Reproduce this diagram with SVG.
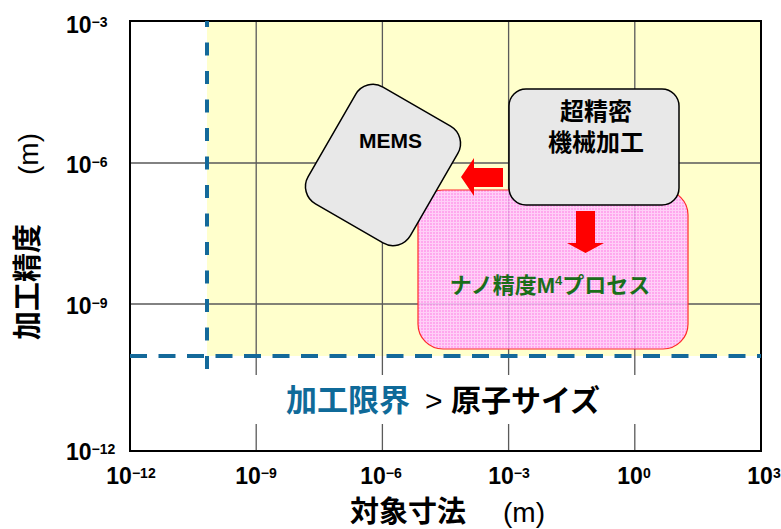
<svg xmlns="http://www.w3.org/2000/svg" width="781" height="529" viewBox="0 0 781 529">
<style>
.tick{font-family:"Liberation Sans","Noto Sans",sans-serif;font-weight:bold;font-size:23px;fill:#000}
.sup{font-size:14px}
.cjk{font-family:"Noto Sans CJK JP",sans-serif}
.lat{font-family:"Liberation Sans","Noto Sans CJK JP",sans-serif}
.grid{stroke:#5a5a5a;stroke-width:1.3;fill:none}
.node{fill:#e8e8e8;stroke:#000;stroke-width:1.5}
.dash{stroke:#14699a;stroke-width:4;fill:none}
.arrow{fill:#ff0000;stroke:none}
</style>
<defs>
<pattern id="mesh" width="3" height="3" patternUnits="userSpaceOnUse">
<rect width="3" height="3" fill="#ff99f4"/>
<path d="M0 0.5H3M0.5 0V3" stroke="#ffc8ff" stroke-width="1"/>
</pattern>
</defs>
<rect width="781" height="529" fill="#fff"/>
<g id="chart">
<rect x="207" y="21" width="554" height="335" fill="#ffffcc"/>
<path class="grid" d="M256.2 21V451M382.4 21V451M508.6 21V451M634.8 21V451M130 163H761M130 304H761"/>
<rect x="130" y="21" width="631" height="430" fill="none" stroke="#000" stroke-width="2"/>
<path class="dash" d="M130 356H761" stroke-dasharray="17 11.5"/>
<path class="dash" d="M207 21V372" stroke-dasharray="13 15.5" stroke-dashoffset="7"/>
<rect x="230" y="375" width="450" height="49" fill="#fff"/>
<text x="286" y="411" font-size="31"><tspan class="cjk" font-weight="bold" fill="#0f6a99">加工限界</tspan><tspan class="lat" x="425" font-size="30" fill="#000">&gt;</tspan><tspan class="cjk" x="451" font-size="30" fill="#000" font-weight="bold">原子サイズ</tspan></text>
</g>
<g id="y-ticks" class="tick">
<text x="66" y="33">10<tspan class="sup" dy="-6">−3</tspan></text>
<text x="66" y="173">10<tspan class="sup" dy="-6">−6</tspan></text>
<text x="66" y="314">10<tspan class="sup" dy="-6">−9</tspan></text>
<text x="66" y="460">10<tspan class="sup" dy="-6">−12</tspan></text>
</g>
<g id="x-ticks" class="tick" text-anchor="middle">
<text x="131" y="484">10<tspan class="sup" dy="-6">−12</tspan></text>
<text x="256" y="484">10<tspan class="sup" dy="-6">−9</tspan></text>
<text x="381" y="484">10<tspan class="sup" dy="-6">−6</tspan></text>
<text x="509" y="484">10<tspan class="sup" dy="-6">−3</tspan></text>
<text x="634" y="484">10<tspan class="sup" dy="-6">0</tspan></text>
<text x="764" y="484">10<tspan class="sup" dy="-6">3</tspan></text>
</g>
<g id="axis-titles">
<text x="350" y="522" font-size="29"><tspan class="cjk" font-weight="bold">対象寸法</tspan><tspan class="lat" x="503" font-size="28">(m)</tspan></text>
<text transform="translate(38,340) rotate(-90)" font-size="29"><tspan class="cjk" font-weight="bold">加工精度</tspan><tspan class="lat" x="165" font-size="28">(m)</tspan></text>
</g>
<g id="nano-process">
<rect x="418" y="190" width="270" height="159" rx="25" fill="url(#mesh)" opacity="0.85"/>
<rect x="418" y="190" width="270" height="159" rx="25" fill="none" stroke="#ff2a2a" stroke-width="1.2"/>
<text class="lat" x="550" y="293" text-anchor="middle" font-size="22" font-weight="bold" fill="#1a6e1a">ナノ精度M<tspan font-size="13" dy="-8">4</tspan><tspan dy="8">プロセス</tspan></text>
</g>
<g id="mems">
<rect class="node" x="-59" y="-67.5" width="118" height="135" rx="20" transform="translate(383,165) rotate(30)"/>
<text class="lat" x="390.5" y="148" text-anchor="middle" font-size="21" font-weight="bold">MEMS</text>
</g>
<g id="ultra-precision">
<rect class="node" x="509" y="89" width="170" height="116" rx="17"/>
<text class="cjk" x="596" y="120" text-anchor="middle" font-size="24" font-weight="bold">超精密</text>
<text class="cjk" x="596" y="151" text-anchor="middle" font-size="24" font-weight="bold">機械加工</text>
</g>
<g id="connectors">
<polygon class="arrow" points="461,177 474,158 474,168 503,168 503,187 474,187 474,196"/>
<polygon class="arrow" points="576,211 595,211 595,243 604,243 585.5,253 567,243 576,243"/>
</g>
</svg>
